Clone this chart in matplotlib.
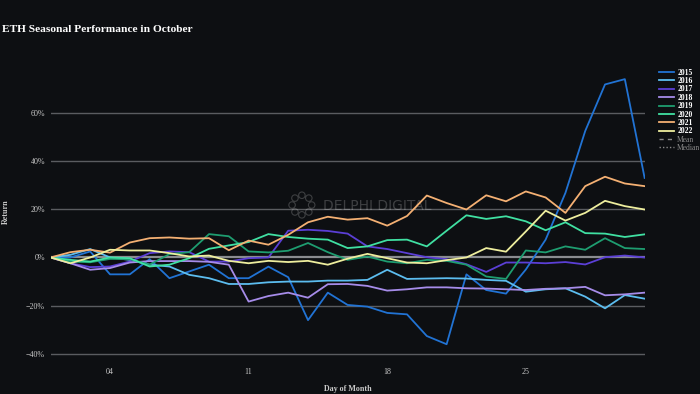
import matplotlib
matplotlib.use("Agg")
import matplotlib.pyplot as plt
from matplotlib.lines import Line2D
import numpy as np

plt.rcParams['font.family'] = ['Liberation Serif', 'DejaVu Serif']

days = list(range(1, 32))

ret_2015 = [0, 0, 2.5, -7, -7, -0.7, -8.6, -5.8, -3, -8.6, -8.6, -3.8, -8.2, -26, -14.6, -19.7,
            -20.4, -23, -23.6, -32.6, -36, -7, -13.5, -15, -5, 7.4, 26.8, 52.5, 71.8, 74, 33]
ret_2016 = [0, 1.1, 3.5, 0, -1, -3, -3.75, -7.2, -8.6, -11, -11, -10.3, -10, -10, -9.6, -9.6,
            -9.3, -5.1, -8.9, -8.75, -8.6, -8.75, -9.3, -9.7, -14.2, -13.2, -12.8, -16.25, -21.1, -15.6, -17.1]
ret_2017 = [0, -2.4, -4, -3.75, -1.7, 1.8, 2.5, 2.2, -1.7, -1.7, -0.3, 0, 11.1, 11.5, 11, 9.9,
            4.6, 3.5, 1.8, 0.1, -0.7, -2.8, -6, -2.1, -2.1, -2.4, -1.9, -2.9, 0.1, 0.8, 0]
ret_2018 = [0, -2.4, -5.1, -4.4, -2.1, -1.5, -1.5, -1.5, -1.8, -3, -18.3, -16, -14.6, -16.7, -11.1, -11,
            -11.8, -13.75, -13.2, -12.4, -12.4, -12.8, -12.9, -13.2, -13.5, -13, -12.8, -12.2, -15.7, -15.3, -14.6]
ret_2019 = [0, -1.7, -2, -0.6, -0.7, -3, 1.4, 2.2, 9.7, 8.8, 2.5, 2.1, 2.8, 6, 2.2, -1,
            0.4, -1.7, -2.4, -1, -1.4, -3, -7.9, -8.9, 2.9, 2.1, 4.6, 3.2, 8, 3.9, 3.5]
ret_2020 = [0, -1, -1.7, 0, -0.3, -3.75, -3, -0.3, 3.6, 5, 6.4, 9.7, 8.5, 7.8, 7.4, 3.9,
            4.6, 7.2, 7.4, 4.6, 11.1, 17.5, 16, 17.1, 15, 11.3, 14.6, 10.1, 9.9, 8.5, 9.6]
ret_2021 = [0, 2.2, 3.2, 2, 6.2, 8, 8.3, 7.8, 8, 3, 7, 5.3, 9.4, 14.6, 16.9, 15.7,
            16.3, 13.2, 17.2, 25.7, 22.6, 19.9, 25.8, 23.3, 27.4, 24.9, 18.5, 29.6, 33.5, 30.7, 29.6]
ret_2022 = [0, -2.4, 0, 3.2, 2.9, 2.9, 1.8, 0.4, 0.8, -1.4, -2.4, -1.4, -1.9, -1.4, -3, -0.5,
            1.5, -0.3, -2.1, -2.4, -1.1, 0, 3.9, 2.4, 10.8, 19.4, 15.3, 18.5, 23.5, 21.3, 19.9]

series = [
    ("2015", ret_2015, "#2173d4"),
    ("2016", ret_2016, "#5cbdef"),
    ("2017", ret_2017, "#5b3fd6"),
    ("2018", ret_2018, "#a68ce9"),
    ("2019", ret_2019, "#1e9d70"),
    ("2020", ret_2020, "#40e0a2"),
    ("2021", ret_2021, "#f4b073"),
    ("2022", ret_2022, "#eeee9e"),
]

bg = "#0d0f12"
fig = plt.figure(figsize=(7, 3.94), dpi=100, facecolor=bg)
ax = fig.add_axes([0.0723, 0.0774, 0.8486, 0.7462], facecolor=bg)

for y in [-40, -20, 20, 40, 60]:
    ax.axhline(y, color="#5a5c60", lw=1.0, zorder=1)
ax.axhline(0, color="#8a8c90", lw=1.6, zorder=1)

handles = []
for name, vals, col in series:
    ln, = ax.plot(days, vals, color=col, lw=1.3, label=name, zorder=3)
    handles.append(ln)
handles.append(Line2D([], [], color="#888888", lw=1.0, ls=(0, (3, 3)), label="Mean"))
handles.append(Line2D([], [], color="#888888", lw=1.0, ls=(0, (1, 1.5)), label="Median"))

ax.set_xlim(1, 31)
ax.set_ylim(-44, 78)
ax.set_xticks([4, 11, 18, 25])
ax.set_xticklabels(["04", "11", "18", "25"])
ax.set_yticks([-40, -20, 0, 20, 40, 60])
ax.set_yticklabels([f"{v}%" if v >= 0 else f"\u2212{-v}%" for v in [-40, -20, 0, 20, 40, 60]])
ax.tick_params(length=0, colors="#c8c8c8", labelsize=5.8, pad=4)
ax.tick_params(axis="x", pad=3)
for s in ax.spines.values():
    s.set_visible(False)

fig.text(0.497, 0.013, "Day of Month", color="#c8c8c8", fontsize=5.8,
         fontweight="bold", ha="center", va="center")
fig.text(0.008, 0.462, "Return", rotation=90, color="#c8c8c8", fontsize=5.8,
         fontweight="bold", ha="center", va="center")

fig.text(0.003, 0.924, "ETH Seasonal Performance in October", color="white",
         fontsize=8.2, fontweight="bold", ha="left", va="center")

# watermark
ax.text(0.459, 0.535, "DELPHI DIGITAL", transform=ax.transAxes, color="#ffffff", alpha=0.2,
        fontsize=10, family="DejaVu Sans", ha="left", va="center", zorder=2)
ang = np.linspace(0, 2 * np.pi, 9)[:-1]
ax.scatter(0.423 + 0.0165 * np.cos(ang), 0.539 + 0.0333 * np.sin(ang), s=22,
           transform=ax.transAxes, facecolors="none", edgecolors="#ffffff",
           alpha=0.2, linewidths=0.8, zorder=2)

leg = fig.legend(handles=handles, loc="upper left", bbox_to_anchor=(0.932, 0.843),
                 frameon=False, fontsize=5.5, handlelength=1.9, labelspacing=0.05,
                 handletextpad=0.45)
for t in leg.get_texts():
    if t.get_text() in ("Mean", "Median"):
        t.set_color("#8a8a8a")
    else:
        t.set_color("white")
        t.set_fontweight("bold")

fig.savefig("out.png", dpi=100, facecolor=bg)
